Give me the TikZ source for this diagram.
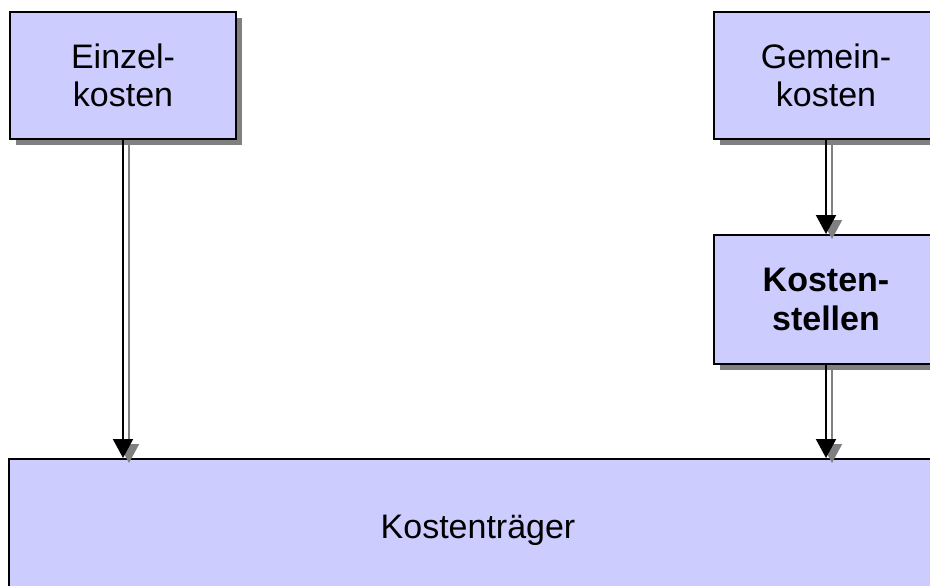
\documentclass[tikz,border=0pt]{standalone}
\usepackage{fontspec}
\setmainfont{Liberation Sans}
\usetikzlibrary{shadows,arrows.meta}
\definecolor{boxfill}{HTML}{CCCCFF}
\definecolor{shadowgray}{HTML}{808080}
\tikzset{
  costbox/.style={draw=black, line width=2pt, fill=boxfill, align=center,
    font=\fontsize{34}{38.5}\selectfont, inner sep=0pt,
    drop shadow={shadow xshift=6pt, shadow yshift=-6pt, fill=shadowgray, opacity=1}},
  flowline/.style={line width=2pt, -{Triangle[width=20pt,length=19pt]}},
  flowshadow/.style={flowline, draw=shadowgray, fill=shadowgray},
  sh/.style={xshift=6pt, yshift=-5pt}
}
\begin{document}
\begin{tikzpicture}[x=1pt,y=-1pt]
  \useasboundingbox (0,0) rectangle (930,586);
  \clip (0,0) rectangle (930,586);
  \fill[white] (0,0) rectangle (930,586);

  % cost boxes
  \node[costbox, minimum width=226pt, minimum height=127pt] (einzel) at (123,75.5) {Einzel-\\kosten};
  \node[costbox, minimum width=224pt, minimum height=127pt] (gemein) at (826,75.5) {Gemein-\\kosten};
  \node[costbox, minimum width=224pt, minimum height=129pt, font=\fontsize{34}{38.5}\selectfont\bfseries] (stellen) at (826,299.5) {Kosten-\\stellen};
  \node[costbox, minimum width=938pt, minimum height=142pt] (traeger) at (478,530) {Kostenträger};

  % shadows of the connectors
  \draw[flowshadow] ([sh]einzel.south) -- ([sh]einzel.south |- traeger.north);
  \draw[flowshadow] ([sh]gemein.south) -- ([sh]stellen.north);
  \draw[flowshadow] ([sh]stellen.south) -- ([sh]stellen.south |- traeger.north);

  % connectors
  \draw[flowline] (einzel.south) -- (einzel.south |- traeger.north);
  \draw[flowline] (gemein.south) -- (stellen.north);
  \draw[flowline] (stellen.south) -- (stellen.south |- traeger.north);
\end{tikzpicture}
\end{document}
